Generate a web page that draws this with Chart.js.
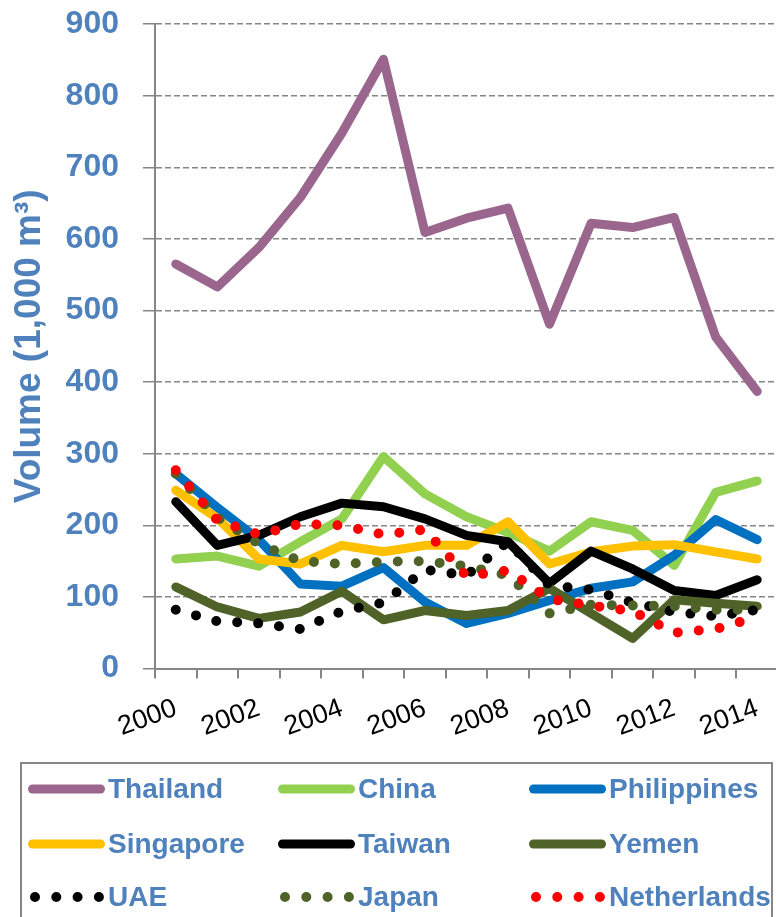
<!DOCTYPE html>
<html>
<head>
<meta charset="utf-8">
<script src="https://cdn.jsdelivr.net/npm/chart.js@4.4.1/dist/chart.umd.min.js"></script>
<style>
  html,body{margin:0;padding:0;background:#fff;overflow:hidden;width:776px;height:917px}
  #wrap{position:absolute;left:0;top:-19.5px;width:790px;height:769.5px}
  #legendBox{position:absolute;left:20px;top:762px;width:753px;height:200px;border:2px solid #868686;box-sizing:border-box}
  .lg{position:absolute}
  .lgText{position:absolute;font:bold 28px "Liberation Sans",Arial,sans-serif;color:#4F81BD;line-height:1;transform:translateY(-50%);white-space:nowrap}
</style>
</head>
<body>
<div id="wrap"><canvas id="c"></canvas></div>
<div id="legendBox"></div>
<div id="legend"></div>
<script>
(() => {
  "use strict";

  const years = ["2000","2001","2002","2003","2004","2005","2006","2007","2008","2009","2010","2011","2012","2013","2014"];
  const shownYears = ["2000","2002","2004","2006","2008","2010","2012","2014"];

  const thailand    = [565, 533, 588, 658, 748, 851, 609, 629, 643, 481, 622, 616, 630, 463, 387];
  const china       = [153, 157, 143, 177, 209, 296, 244, 212, 190, 164, 205, 193, 144, 246, 262];
  const philippines = [272, 225, 180, 118, 115, 141,  93,  63,  77,  95, 112, 121, 158, 208, 180];
  const singapore   = [249, 210, 153, 146, 172, 163, 172, 172, 205, 146, 163, 171, 173, 163, 153];
  const taiwan      = [233, 172, 186, 212, 231, 226, 209, 186, 177, 119, 164, 139, 109, 102, 124];
  const yemen       = [114,  86,  70,  79, 108,  68,  81,  74,  81, 112,  77,  42,  96,  91,  87];
  const uae         = [ 82,  66,  63,  55,  80,  92, 138, 130, 177, 116, 110,  92,  79,  73,  82];
  const japan       = [272, 211, 174, 150, 146, 149, 150, 143, 130,  77,  89,  88,  87,  82,  82];
  const netherlands = [277, 207, 187, 202, 200, 187, 194, 129, 137,  97,  88,  80,  50,  55,  72];

  const seriesNames  = ["Thailand","China","Philippines","Singapore","Taiwan","Yemen","UAE","Japan","Netherlands"];
  const seriesValues = [thailand, china, philippines, singapore, taiwan, yemen, uae, japan, netherlands];
  const seriesColors = ["#9A668E","#92D050","#0070C0","#FFC000","#000000","#4F6228","#000000","#4F6228","#FF0000"];
  const seriesDotted = [false,false,false,false,false,false,true,true,true];

  const yTicks = [0,100,200,300,400,500,600,700,800,900];

  const BLUE = "#4F81BD", GREY = "#868686";
  const FONT = '"Liberation Sans", Arial, sans-serif';
  const LW = 9, DOT_LW = 10, DOT_GAP = 21;

  const datasets = seriesNames.map((name,i)=>({
    label: name,
    data: seriesValues[i],
    borderColor: seriesColors[i],
    backgroundColor: seriesColors[i],
    borderWidth: seriesDotted[i] ? DOT_LW : LW,
    borderCapStyle: "round",
    borderJoinStyle: "round",
    borderDash: seriesDotted[i] ? [0, DOT_GAP] : [],
    pointRadius: 0,
    tension: 0,
    fill: false,
    order: seriesNames.length - i
  }));

  new Chart(document.getElementById("c"), {
    type: "line",
    data: { labels: years, datasets },
    options: {
      responsive: true,
      maintainAspectRatio: false,
      animation: false,
      layout: { padding: { left: 0, right: 12, top: 4, bottom: 2 } },
      plugins: { legend: { display: false }, tooltip: { enabled: false } },
      scales: {
        x: {
          type: "category",
          offset: true,
          afterFit: (s)=>{ s.height = 80; },
          grid: { offset: true, drawOnChartArea: false, drawTicks: true, tickLength: 10, color: GREY, lineWidth: 2 },
          border: { display: true, color: GREY, width: 2 },
          ticks: {
            autoSkip: false, minRotation: 20, maxRotation: 20, padding: 14,
            color: "#000", font: { family: FONT, size: 27 },
            callback: function(v){ const l = this.getLabelForValue(v); return shownYears.includes(l) ? l : ""; }
          }
        },
        y: {
          min: yTicks[0], max: yTicks[yTicks.length-1],
          afterFit: (s)=>{ s.width = 155; },
          afterBuildTicks: (s)=>{ s.ticks = yTicks.map(v=>({value:v})); },
          grid: { color: GREY, lineWidth: 1.5, tickLength: 12, drawTicks: true },
          border: { display: true, color: GREY, width: 2, dash: [6,3] },
          ticks: { padding: 24, color: BLUE, font: { family: FONT, size: 32, weight: "bold" } },
          title: {
            display: true, text: "Volume (1,000 m\u00B3)", color: BLUE,
            font: { family: FONT, size: 37, weight: "bold" }, padding: { top: 8, bottom: 0 }
          }
        }
      }
    }
  });

  // legend, 3 columns x 3 rows
  const colX = [28, 278, 529], rowY = [789, 844, 897];
  const leg = document.getElementById("legend");
  seriesNames.forEach((name,i)=>{
    const x = colX[i%3], y = rowY[Math.floor(i/3)];
    const cv = document.createElement("canvas");
    cv.width = 82; cv.height = 20;
    cv.className = "lg";
    cv.style.left = x + "px"; cv.style.top = (y-10) + "px";
    const ctx = cv.getContext("2d");
    ctx.strokeStyle = seriesColors[i];
    ctx.lineWidth = seriesDotted[i] ? DOT_LW : LW;
    ctx.lineCap = "round";
    ctx.beginPath();
    if(seriesDotted[i]){
      ctx.setLineDash([0, 21.3]);
      ctx.moveTo(7,10); ctx.lineTo(72,10);
    }else{
      ctx.moveTo(4.5,10); ctx.lineTo(72.5,10);
    }
    ctx.stroke();
    leg.appendChild(cv);
    const t = document.createElement("div");
    t.className = "lgText";
    t.textContent = name;
    t.style.left = (x+80) + "px"; t.style.top = y + "px";
    leg.appendChild(t);
  });
})();
</script>
</body>
</html>
